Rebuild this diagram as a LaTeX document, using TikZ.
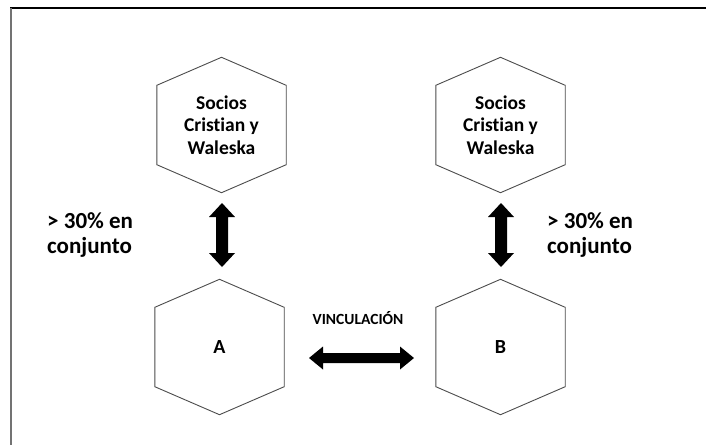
\documentclass[tikz,border=0pt]{standalone}
\usepackage{fontspec}
\setmainfont[Ligatures={NoCommon}]{Carlito}
\usetikzlibrary{calc}
\begin{document}
\begin{tikzpicture}[x=1pt,y=-1pt,
  hexbox/.style={minimum width=129pt,minimum height=135pt,inner sep=0pt,
    align=center,font=\bfseries\fontsize{19.5}{22.5}\selectfont},
  hexline/.style={draw=black!70,line width=0.9pt,line join=miter},
  sharelabel/.style={anchor=west,align=left,inner sep=0pt,
    font=\bfseries\fontsize{23}{25.5}\selectfont},
  linklabel/.style={inner sep=0pt,font=\bfseries\fontsize{15.5}{18}\selectfont},
  vdarrow/.pic={\fill[black] (0,-32) -- (13,-18) -- (6,-18) -- (6,18) -- (13,18)
     -- (0,32) -- (-13,18) -- (-6,18) -- (-6,-18) -- (-13,-18) -- cycle;},
  hdarrow/.pic={\fill[black] (-52.5,0) -- (-38.5,-11.5) -- (-38.5,-5) -- (38.5,-5)
     -- (38.5,-11.5) -- (52.5,0) -- (38.5,11.5) -- (38.5,5) -- (-38.5,5)
     -- (-38.5,11.5) -- cycle;}]
\newcommand\hexof[1]{\draw[hexline] (#1.north) -- ($(#1.north east)+(0,28)$)
  -- ($(#1.south east)+(0,-28)$) -- (#1.south) -- ($(#1.south west)+(0,-28)$)
  -- ($(#1.north west)+(0,28)$) -- cycle;}
\useasboundingbox (0,0) rectangle (706,445);
\fill[white] (0,0) rectangle (706,445);

% frame
\draw[black,line width=1.5pt] (10,8) -- (706,8);
\draw[black!55,line width=2pt] (11,8) -- (11,445);

% partners and companies
\node[hexbox] (sociosL) at (221.5,125) {Socios\\Cristian y\\Waleska};
\node[hexbox] (sociosR) at (500.5,125) {Socios\\Cristian y\\Waleska};
\node[hexbox,font=\bfseries\fontsize{20}{22}\selectfont] (A) at (219.5,347) {A};
\node[hexbox,font=\bfseries\fontsize{20}{22}\selectfont] (B) at (500.5,347) {B};
\hexof{sociosL}
\hexof{sociosR}
\hexof{A}
\hexof{B}

% ownership links
\pic (ownL) at (222,235) {vdarrow};
\pic (ownR) at (501,235) {vdarrow};
\node[sharelabel] (pctL) at (47,235) {> 30\% en\\conjunto};
\node[sharelabel] (pctR) at (547,235) {> 30\% en\\conjunto};

% link between A and B
\pic (link) at (361.5,358) {hdarrow};
\node[linklabel] (linkL) at (358,318) {VINCULACIÓN};
\end{tikzpicture}
\end{document}
